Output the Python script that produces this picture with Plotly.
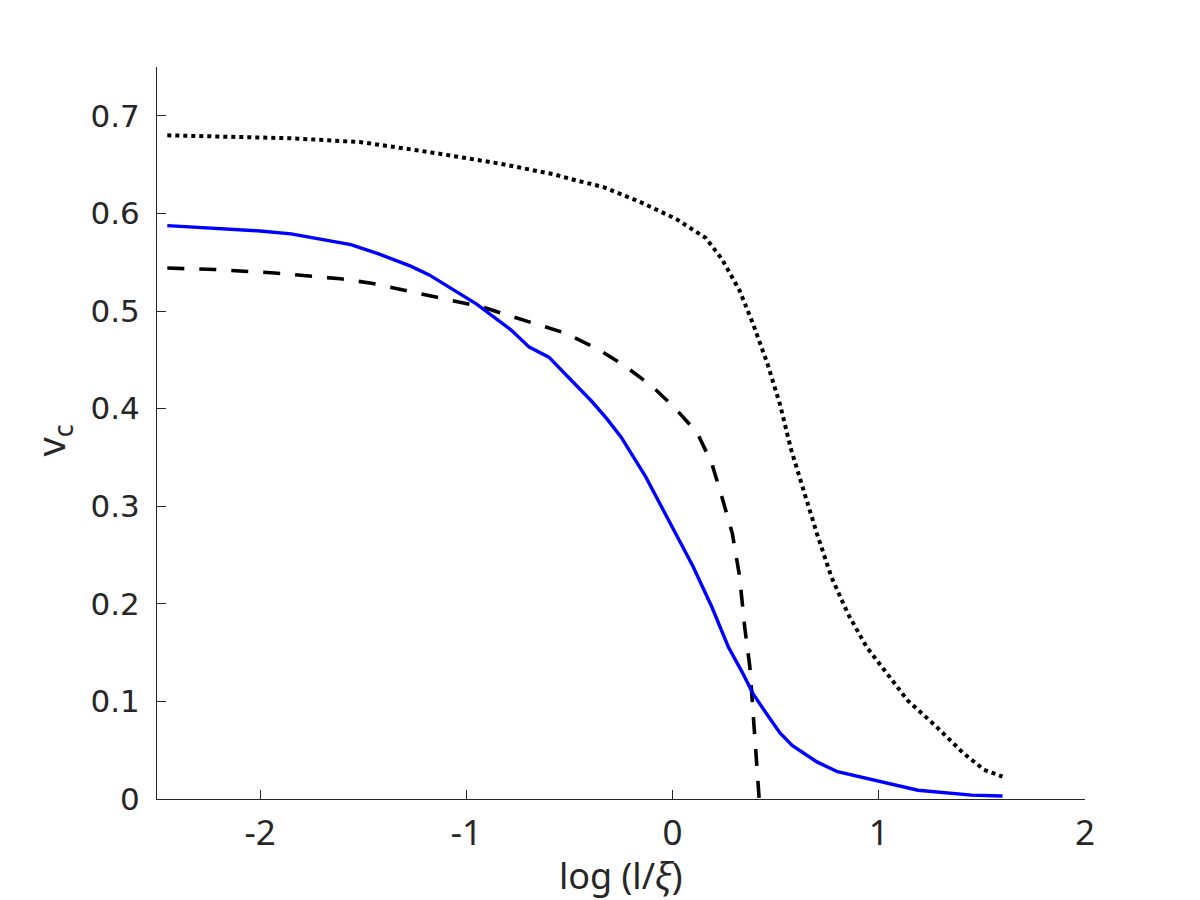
import plotly.graph_objects as go

# Solid blue curve
solid_x = [-2.45, -2.0, -1.85, -1.56, -1.425, -1.27, -1.18, -1.03, -0.95, -0.78, -0.695, -0.60, -0.52,
           -0.39, -0.32, -0.25, -0.13, 0.0, 0.10, 0.19, 0.27, 0.34, 0.39, 0.46, 0.52, 0.58, 0.70, 0.80,
           1.0, 1.19, 1.45, 1.60]
solid_y = [0.5875, 0.582, 0.579, 0.568, 0.5585, 0.546, 0.537, 0.518, 0.507, 0.480, 0.463, 0.4527, 0.435,
           0.407, 0.390, 0.371, 0.330, 0.279, 0.238, 0.197, 0.156, 0.129, 0.108, 0.086, 0.068, 0.055, 0.038, 0.028,
           0.018, 0.009, 0.004, 0.003]

# Dashed black curve
dashed_x = [-2.45, -2.22, -1.93, -1.61, -1.46, -1.14, -0.92, -0.81, -0.66, -0.53, -0.37, -0.24, -0.10,
            0.01, 0.12, 0.19, 0.24, 0.29, 0.325, 0.35, 0.375, 0.393, 0.42]
dashed_y = [0.544, 0.5425, 0.539, 0.533, 0.5285, 0.5135, 0.504, 0.4964, 0.487, 0.478, 0.462, 0.445, 0.423,
            0.401, 0.375, 0.344, 0.309, 0.272, 0.228, 0.176, 0.135, 0.084, 0.0]

# Dotted black curve
dotted_x = [-2.45, -1.85, -1.51, -1.17, -0.83, -0.575, -0.49, -0.335, -0.15, 0.02, 0.13, 0.16, 0.24,
            0.325, 0.39, 0.46, 0.52, 0.575, 0.63, 0.70, 0.77, 0.85, 0.94, 1.04, 1.14, 1.28, 1.41, 1.51, 1.60]
dotted_y = [0.680, 0.677, 0.673, 0.6625, 0.6507, 0.640, 0.635, 0.627, 0.611, 0.594, 0.579, 0.575, 0.553,
            0.521, 0.487, 0.446, 0.405, 0.358, 0.320, 0.272, 0.2275, 0.190, 0.156, 0.129, 0.101, 0.074, 0.047,
            0.030, 0.023]

x_ticks = [-2, -1, 0, 1, 2]
y_ticks = [0, 0.1, 0.2, 0.3, 0.4, 0.5, 0.6, 0.7]
y_tick_text = ["0", "0.1", "0.2", "0.3", "0.4", "0.5", "0.6", "0.7"]
x_title = "log (l/<i>ξ</i>)"
y_title = "v<sub>c</sub>"

fig = go.Figure()
fig.add_trace(go.Scatter(x=dotted_x, y=dotted_y, mode="lines",
                         line=dict(color="black", width=4, dash="dot")))
fig.add_trace(go.Scatter(x=dashed_x, y=dashed_y, mode="lines",
                         line=dict(color="black", width=3.6, dash="17px,15px")))
fig.add_trace(go.Scatter(x=solid_x, y=solid_y, mode="lines",
                         line=dict(color="#0000ff", width=3.4)))

axcol = "#262626"
fig.update_layout(
    width=1200, height=900,
    margin=dict(l=149, r=123, t=59, b=109),
    paper_bgcolor="white", plot_bgcolor="white",
    showlegend=False,
    font=dict(family="Noto Sans", size=24, color=axcol),
    xaxis=dict(range=[-2.5, 2], tickvals=x_ticks, ticktext=[str(v) for v in x_ticks],
               showgrid=False, zeroline=False, showline=True, linecolor=axcol, linewidth=1,
               ticks="inside", ticklen=9, tickcolor=axcol,
               tickfont=dict(family="Noto Sans", size=35, color=axcol), ticklabelstandoff=3),
    yaxis=dict(range=[0, 0.75], tickvals=y_ticks, ticktext=y_tick_text,
               showgrid=False, zeroline=False, showline=True, linecolor=axcol, linewidth=1,
               ticks="inside", ticklen=9, tickcolor=axcol,
               tickfont=dict(family="DejaVu Sans", size=31, color=axcol), ticklabelstandoff=10),
    annotations=[
        dict(text=x_title, xref="paper", yref="paper", x=0.5, y=-0.1045,
             xanchor="center", yanchor="middle", showarrow=False,
             font=dict(family="Noto Sans", size=36, color=axcol)),
        dict(text=y_title, xref="paper", yref="paper", x=-0.113, y=0.49,
             xanchor="center", yanchor="middle", showarrow=False, textangle=-90,
             font=dict(family="Noto Sans", size=38, color=axcol)),
    ],
)

fig.write_html("out.html")
